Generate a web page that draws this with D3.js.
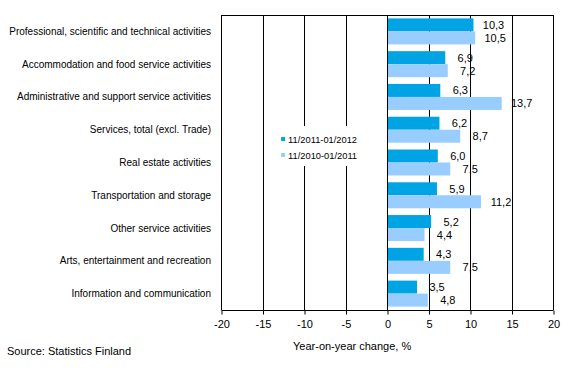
<!DOCTYPE html>
<html>
<head>
<meta charset="utf-8">
<script src="https://cdn.jsdelivr.net/npm/d3@7"></script>
<style>
  body { margin: 0; background: #fff; }
  text { font-family: Arial, "Liberation Sans", sans-serif; fill: #000; }
</style>
</head>
<body>
<div class="chart"></div>
<script>
var categories = [
    'Professional, scientific and technical activities',
    'Accommodation and food service activities',
    'Administrative and support service activities',
    'Services, total (excl. Trade)',
    'Real estate activities',
    'Transportation and storage',
    'Other service activities',
    'Arts, entertainment and recreation',
    'Information and communication'
];
var seriesNames = ['11/2011-01/2012', '11/2010-01/2011'];
var recent = [10.3, 6.9, 6.3, 6.2, 6.0, 5.9, 5.2, 4.3, 3.5];
var previous = [10.5, 7.2, 13.7, 8.7, 7.5, 11.2, 4.4, 7.5, 4.8];
var xTicks = [-20, -15, -10, -5, 0, 5, 10, 15, 20];
var colors = ['#00a4e4', '#99ccff'];

var W = 569, H = 374;
var margin = { top: 15, right: 16, bottom: 64, left: 221 };
var width = W - margin.left - margin.right;
var height = H - margin.top - margin.bottom;

var svg = d3.select('.chart')
    .append('svg')
    .attr('width', W)
    .attr('height', H);

var g = svg.append('g')
    .attr('transform', 'translate(' + margin.left + ', ' + margin.top + ')');

var xScale = d3.scaleLinear()
    .domain([-20, 20])
    .range([0, width]);

var yScale = d3.scaleBand()
    .domain(categories)
    .range([0, height]);

var bandPad = (yScale.bandwidth() - 26) / 2;
var barH = 13;

// grid lines
g.selectAll('.grid')
    .data(xTicks)
    .enter()
    .append('line')
    .attr('x1', d => Math.round(xScale(d)) + 0.5)
    .attr('x2', d => Math.round(xScale(d)) + 0.5)
    .attr('y1', 0)
    .attr('y2', height)
    .style('stroke', '#000')
    .style('stroke-width', 1);

// frame top
g.append('line')
    .attr('x1', 0).attr('x2', width)
    .attr('y1', 0.5).attr('y2', 0.5)
    .style('stroke', '#000');

// bars
var series = [recent, previous];
series.forEach(function (vals, si) {
    g.selectAll('.bar' + si)
        .data(vals)
        .enter()
        .append('rect')
        .attr('x', d => xScale(Math.min(0, d)) + 1)
        .attr('y', (d, i) => yScale(categories[i]) + bandPad + si * barH)
        .attr('width', d => Math.abs(xScale(d) - xScale(0)))
        .attr('height', barH)
        .style('fill', colors[si]);

    g.selectAll('.lab' + si)
        .data(vals)
        .enter()
        .append('text')
        .attr('x', d => xScale(d) + 21)
        .attr('y', (d, i) => yScale(categories[i]) + bandPad + si * barH + barH / 2 + 4)
        .style('text-anchor', 'middle')
        .style('font-size', '11px')
        .text(d => d.toFixed(1).replace('.', ','));
});

// legend with white background
var legend = g.append('g')
    .attr('transform', 'translate(' + (xScale(-13) + 2) + ', 111)');
legend.append('rect')
    .attr('x', -6).attr('y', 0)
    .attr('width', 88).attr('height', 40)
    .style('fill', '#fff');
seriesNames.forEach(function (name, i) {
    legend.append('rect')
        .attr('x', 0)
        .attr('y', 11 + i * 16)
        .attr('width', 4).attr('height', 4)
        .style('fill', colors[i]);
    legend.append('text')
        .attr('x', 7)
        .attr('y', 16.5 + i * 16)
        .style('font-size', '9.3px')
        .text(name);
});

// x axis
var xAxis = d3.axisBottom(xScale)
    .tickValues(xTicks)
    .tickSize(4)
    .tickPadding(6)
    .tickFormat(d => d);
var ax = g.append('g')
    .attr('transform', 'translate(0.5, ' + (height + 0.5) + ')')
    .call(xAxis);
ax.select('.domain').attr('d', 'M0,0H' + width).style('stroke', '#000');
ax.selectAll('.tick line').style('stroke', '#000');
ax.selectAll('.tick text')
    .style('font-size', '11px')
    .style('font-family', 'Arial, "Liberation Sans", sans-serif');

// category labels
g.selectAll('.cat')
    .data(categories)
    .enter()
    .append('text')
    .attr('x', -10)
    .attr('y', d => yScale(d) + yScale.bandwidth() / 2 + 3.5)
    .style('text-anchor', 'end')
    .style('font-size', '10px')
    .text(d => d);

// axis title
svg.append('text')
    .attr('x', 293)
    .attr('y', 350)
    .style('font-size', '11px')
    .text('Year-on-year change, %');

// source
svg.append('text')
    .attr('x', 7)
    .attr('y', 355)
    .style('font-size', '11px')
    .text('Source: Statistics Finland');
</script>
</body>
</html>
